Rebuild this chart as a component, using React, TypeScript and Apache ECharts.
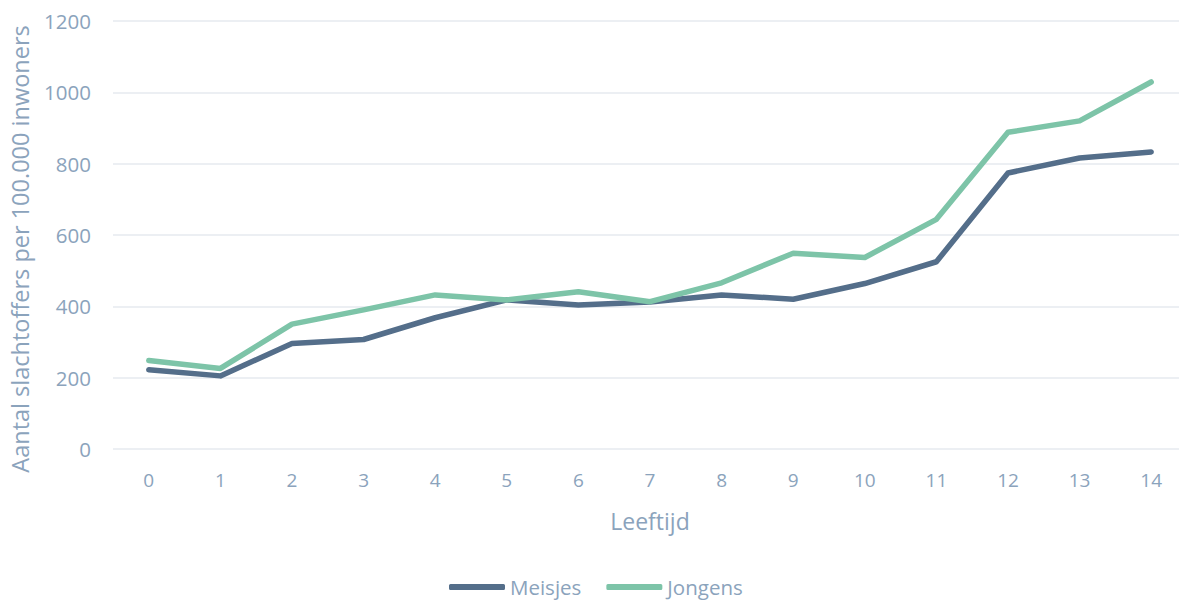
import React, { useEffect, useRef } from "react";
import * as echarts from "echarts";

const categories = ["0", "1", "2", "3", "4", "5", "6", "7", "8", "9", "10", "11", "12", "13", "14"];
const meisjes = [222, 205, 296, 307, 368, 418, 404, 412, 432, 420, 464, 525, 774, 816, 833];
const jongens = [248, 226, 350, 390, 432, 418, 441, 413, 466, 549, 537, 644, 888, 920, 1029];
const yTicks = { min: 0, max: 1200, interval: 200 };

const TEXT = "#8BA3BC";
const DARK = "#546E8A";
const GREEN = "#7DC4A8";
const FONT = "'Open Sans', 'Noto Sans', sans-serif";

export default function App() {
  const ref = useRef<HTMLDivElement>(null);
  useEffect(() => {
    if (!ref.current) return;
    const chart = echarts.init(ref.current, null, { renderer: "svg" });
    chart.setOption({
      animation: false,
      grid: { left: 113, right: 0, top: 21, bottom: 151, containLabel: false },
      legend: {
        data: ["Meisjes", "Jongens"],
        top: 576,
        left: 449,
        padding: 0,
        itemWidth: 56,
        itemHeight: 6,
        itemGap: 25,
        icon: "roundRect",
        textStyle: { color: TEXT, fontFamily: FONT, fontSize: 20.5, lineHeight: 22 },
      },
      xAxis: {
        type: "category",
        data: categories,
        boundaryGap: true,
        name: "Leeftijd",
        nameLocation: "middle",
        nameGap: 60,
        nameTextStyle: { color: TEXT, fontFamily: FONT, fontSize: 23 },
        axisLine: { show: false },
        axisTick: { show: false },
        axisLabel: { color: TEXT, fontFamily: FONT, fontSize: 19, margin: 21 },
      },
      yAxis: {
        type: "value",
        min: yTicks.min,
        max: yTicks.max,
        interval: yTicks.interval,
        axisLine: { show: false },
        axisTick: { show: false },
        axisLabel: { color: TEXT, fontFamily: FONT, fontSize: 20.5, margin: 22, formatter: (v: number) => String(v) },
        splitLine: { lineStyle: { color: "#E6EAEF", width: 1.5 } },
      },
      graphic: [
        {
          type: "text",
          x: 20,
          y: 249,
          rotation: Math.PI / 2,
          style: {
            text: "Aantal slachtoffers per 100.000 inwoners",
            fill: TEXT,
            font: `23.5px ${FONT}`,
            textAlign: "center",
            textVerticalAlign: "middle",
          },
        },
      ],
      series: [
        {
          name: "Meisjes",
          type: "line",
          data: meisjes,
          showSymbol: false,
          symbol: "none",
          lineStyle: { color: DARK, width: 5.5, cap: "round", join: "round" },
          itemStyle: { color: DARK },
        },
        {
          name: "Jongens",
          type: "line",
          data: jongens,
          showSymbol: false,
          symbol: "none",
          lineStyle: { color: GREEN, width: 5.5, cap: "round", join: "round" },
          itemStyle: { color: GREEN },
        },
      ],
    });
    return () => chart.dispose();
  }, []);
  return (
    <div style={{ position: "fixed", left: 0, top: 0, width: 1179, height: 600, overflow: "hidden", background: "#fff" }}>
      <div ref={ref} style={{ width: 1187, height: 600 }} />
    </div>
  );
}
